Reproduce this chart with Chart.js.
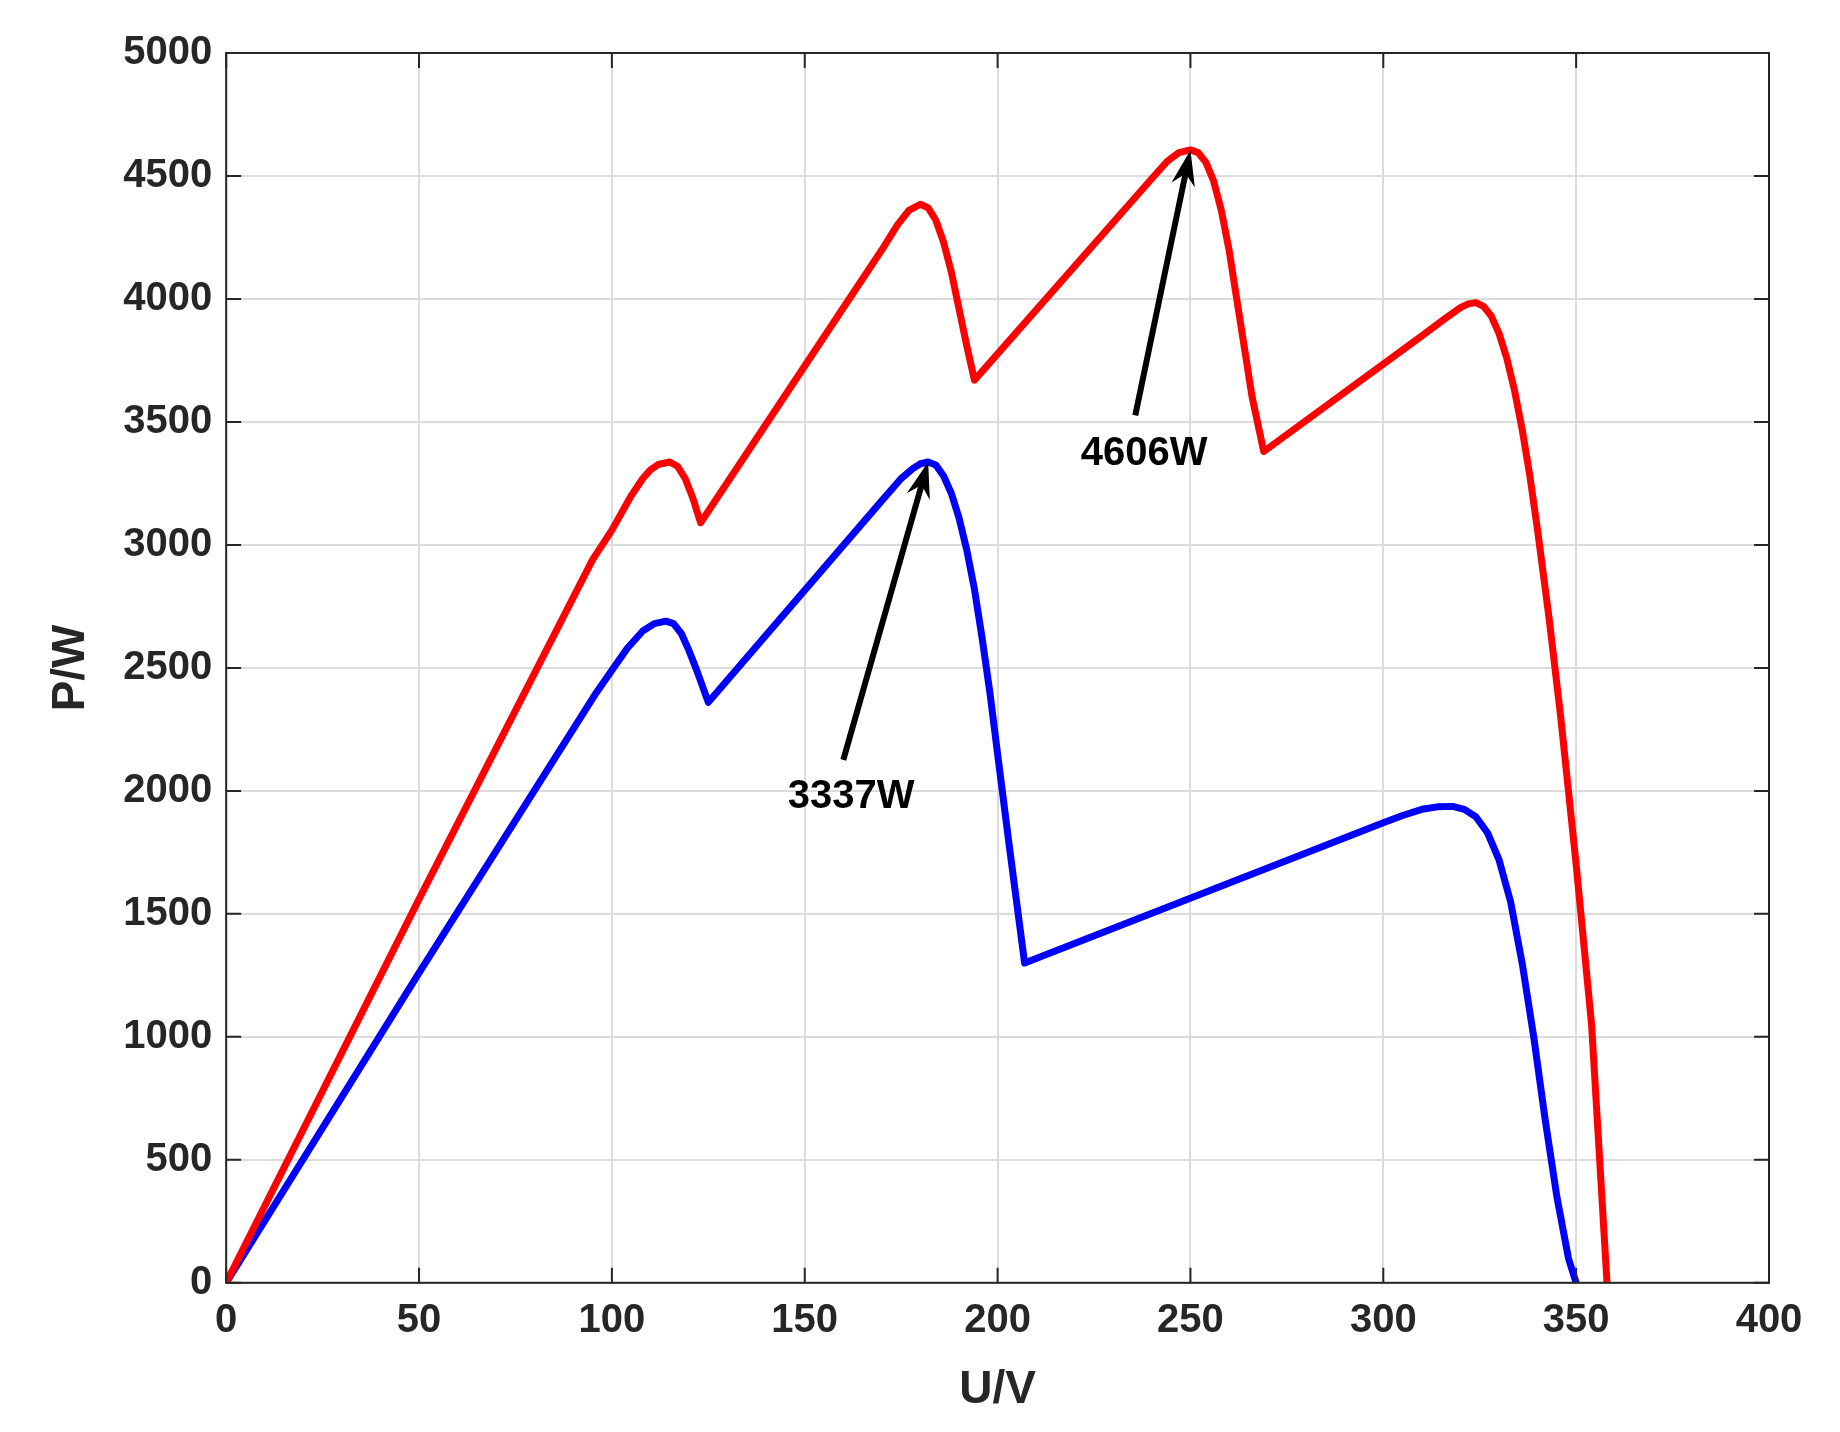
<!DOCTYPE html><html><head><script src="https://cdn.jsdelivr.net/npm/chart.js@4"></script>
<style>body{margin:0;background:#fff}#w{width:1840px;height:1432px}</style></head><body><div id="w"><canvas id="c"></canvas></div><script>
const redU=[0,50,95,100,105,108,110,112,115,117,119,121,123,170,174,177,180,182,184,186,188,190,192,194,240,244,247,250,252,254,256,258,260,262,264,266,269,310,316,320,322,324,326,328,330,332,334,336,338,340,343,346,350,354,358];
const redP=[0,1560,2940,3060,3200,3270,3305,3327,3337,3320,3270,3190,3090,4200,4300,4360,4385,4370,4320,4230,4110,3960,3810,3670,4490,4560,4595,4606,4595,4555,4480,4360,4200,4000,3800,3600,3380,3850,3920,3965,3980,3985,3970,3930,3860,3760,3630,3470,3280,3060,2700,2300,1700,1050,0];
const blueU=[0,50,96,100,104,108,111,114,116,118,120,122,125,170,175,178,180,182,184,186,188,190,192,194,196,198,200,203,207,300,305,310,314,318,321,324,327,330,333,336,339,342,345,348,350];
const blueP=[0,1260,2400,2490,2580,2650,2680,2690,2680,2640,2570,2490,2360,3180,3270,3310,3330,3337,3325,3280,3210,3110,2980,2820,2620,2400,2150,1780,1300,1870,1900,1925,1935,1937,1925,1895,1830,1720,1550,1300,1000,660,350,100,0];
const xTicks=[0,50,100,150,200,250,300,350,400];
const yTicks=[0,500,1000,1500,2000,2500,3000,3500,4000,4500,5000];
const notes=[{label:'4606W',tailU:235.7,tailP:3527,headU:250,headP:4606,textU:238,textP:3370},
 {label:'3337W',tailU:160,tailP:2126,headU:182,headP:3337,textU:162,textP:1975}];
const toPts=(u,p)=>u.map((v,i)=>({x:v,y:p[i]}));
const F='"Liberation Sans", Arial, sans-serif';
const deco={id:'deco',afterDatasetsDraw(ch){const c=ch.ctx,a=ch.chartArea,x=ch.scales.x,y=ch.scales.y;
 c.save();c.strokeStyle='#262626';c.lineWidth=2;c.strokeRect(a.left,a.top,a.right-a.left,a.bottom-a.top);
 xTicks.forEach(t=>{const px=x.getPixelForValue(t);c.beginPath();c.moveTo(px,a.bottom);c.lineTo(px,a.bottom-15);c.moveTo(px,a.top);c.lineTo(px,a.top+15);c.stroke();});
 yTicks.forEach(t=>{const py=y.getPixelForValue(t);c.beginPath();c.moveTo(a.left,py);c.lineTo(a.left+15,py);c.moveTo(a.right,py);c.lineTo(a.right-15,py);c.stroke();});
 notes.forEach(n=>{const x0=x.getPixelForValue(n.tailU),y0=y.getPixelForValue(n.tailP),x1=x.getPixelForValue(n.headU),y1=y.getPixelForValue(n.headP);
  const ang=Math.atan2(y1-y0,x1-x0),L=36,W=12;
  const bx=x1-L*Math.cos(ang),by=y1-L*Math.sin(ang);
  c.strokeStyle='#000';c.lineWidth=6;c.beginPath();c.moveTo(x0,y0);c.lineTo(x1-20*Math.cos(ang),y1-20*Math.sin(ang));c.stroke();
  c.fillStyle='#000';c.beginPath();c.moveTo(x1,y1);
  c.lineTo(bx+W*Math.sin(ang),by-W*Math.cos(ang));c.lineTo(x1-24*Math.cos(ang),y1-24*Math.sin(ang));c.lineTo(bx-W*Math.sin(ang),by+W*Math.cos(ang));c.closePath();c.fill();
  c.font='bold 40px '+F;c.textAlign='center';c.textBaseline='middle';c.fillText(n.label,x.getPixelForValue(n.textU),y.getPixelForValue(n.textP));});
 c.restore();}};
new Chart(document.getElementById('c'),{type:'line',data:{datasets:[
 {data:toPts(redU,redP),borderColor:'#ff0000',borderWidth:7,pointRadius:0,tension:0,borderJoinStyle:'round'},
 {data:toPts(blueU,blueP),borderColor:'#0000ff',borderWidth:7,pointRadius:0,tension:0,borderJoinStyle:'round'}]},
 options:{responsive:true,maintainAspectRatio:false,animation:false,layout:{padding:{left:40,right:71,top:53,bottom:10}},
 plugins:{legend:{display:false},tooltip:{enabled:false}},
 scales:{x:{type:'linear',min:0,max:400,afterBuildTicks:s=>{s.ticks=xTicks.map(v=>({value:v}))},grid:{color:'#dcdcdc',lineWidth:2,drawTicks:false},border:{display:false},
  ticks:{color:'#262626',font:{family:F,weight:'bold',size:40},padding:14,callback:v=>String(v)},title:{display:true,text:'U/V',color:'#262626',font:{family:F,weight:'bold',size:46},padding:{top:4}}},
 y:{min:0,max:5000,afterBuildTicks:s=>{s.ticks=yTicks.map(v=>({value:v}))},grid:{color:'#dcdcdc',lineWidth:2,drawTicks:false},border:{display:false},
  ticks:{color:'#262626',font:{family:F,weight:'bold',size:40},padding:14,callback:v=>String(v)},title:{display:true,text:'P/W',color:'#262626',font:{family:F,weight:'bold',size:46},padding:{bottom:10}}}}},
 plugins:[deco]});
</script></body></html>
